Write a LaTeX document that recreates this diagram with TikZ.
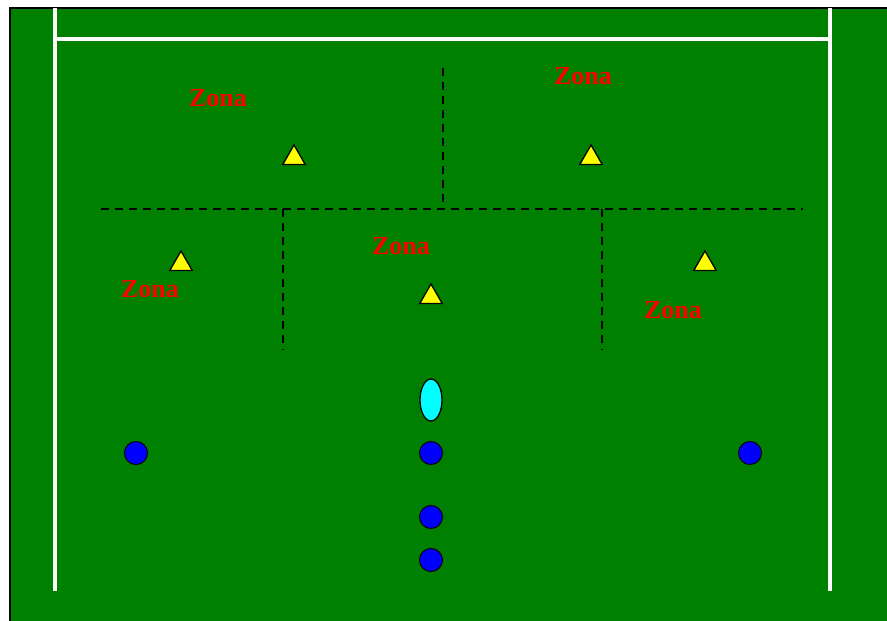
\documentclass[tikz,border=0pt]{standalone}
\usepackage{fontspec}
\setmainfont{Liberation Serif}
\usetikzlibrary{positioning, shapes.geometric}
\definecolor{campo}{RGB}{0,128,0}
\definecolor{balonc}{RGB}{0,255,255}
\definecolor{jugadorc}{RGB}{0,0,255}
\definecolor{conoc}{RGB}{255,255,0}
\definecolor{zonac}{RGB}{255,0,0}

\begin{document}
\begin{tikzpicture}[
    x=1pt, y=-1pt,
    zona/.style = {text=zonac, font=\fontsize{26}{26}\selectfont\bfseries, inner sep=0pt},
    cono/.style = {regular polygon, regular polygon sides=3, draw, fill=conoc, minimum size=26pt, inner sep=0pt, line width=1.3pt},
    jugador/.style = {circle, draw, fill=jugadorc, minimum size=23pt, inner sep=0pt, line width=1pt},
    balon/.style = {ellipse, draw, fill=balonc, minimum width=22pt, minimum height=42pt, inner sep=0pt, line width=1.3pt},
    linea/.style = {dash pattern=on 8pt off 6pt, line width=2.5pt},
    raya/.style = {white, line width=4pt}
]
    \useasboundingbox (0,0) rectangle (887,621);
    \clip (0,0) rectangle (887,621);

    % campo
    \draw[fill=campo, line width=2pt] (10,8) rectangle (900,640);

    \coordinate (TL) at (55,8);
    \coordinate (BL) at (55,591);
    \coordinate (TR) at (830,8);
    \coordinate (BR) at (830,591);
    \coordinate (GL) at (55,39);
    \coordinate (GR) at (830,39);
    \draw[raya] (TL) -- (BL);
    \draw[raya] (TR) -- (BR);
    \draw[raya] (GL) -- (GR);

    % zonas
    \coordinate (H1) at (101,209);
    \coordinate (H2) at (803,209);
    \coordinate (V1) at (443,68);
    \coordinate (V1b) at (443,209);
    \coordinate (V2) at (283,209);
    \coordinate (V2b) at (283,350);
    \coordinate (V3) at (602,209);
    \coordinate (V3b) at (602,350);
    \draw[linea] (H1) -- (H2);
    \draw[linea] (V1) -- (V1b);
    \draw[linea] (V2) -- (V2b);
    \draw[linea] (V3) -- (V3b);

    \node[zona] (Z1) at (218,98) {Zona};
    \node[zona] (Z2) at (583,76) {Zona};
    \node[zona] (Z3) at (401,246) {Zona};
    \node[zona] (Z4) at (150,289) {Zona};
    \node[zona] (Z5) at (673,310) {Zona};

    % conos
    \node[cono] (C1) at (294,158) {};
    \node[cono] (C2) at (591,158) {};
    \node[cono] (C3) at (181,264) {};
    \node[cono] (C4) at (705,264) {};
    \node[cono] (C5) at (431,297) {};

    % balon y jugadores
    \node[balon] (B) at (431,400) {};
    \node[jugador] (J1) at (136,453) {};
    \node[jugador] (J2) at (431,453) {};
    \node[jugador] (J3) at (750,453) {};
    \node[jugador] (J4) at (431,517) {};
    \node[jugador] (J5) at (431,560) {};
\end{tikzpicture}
\end{document}
